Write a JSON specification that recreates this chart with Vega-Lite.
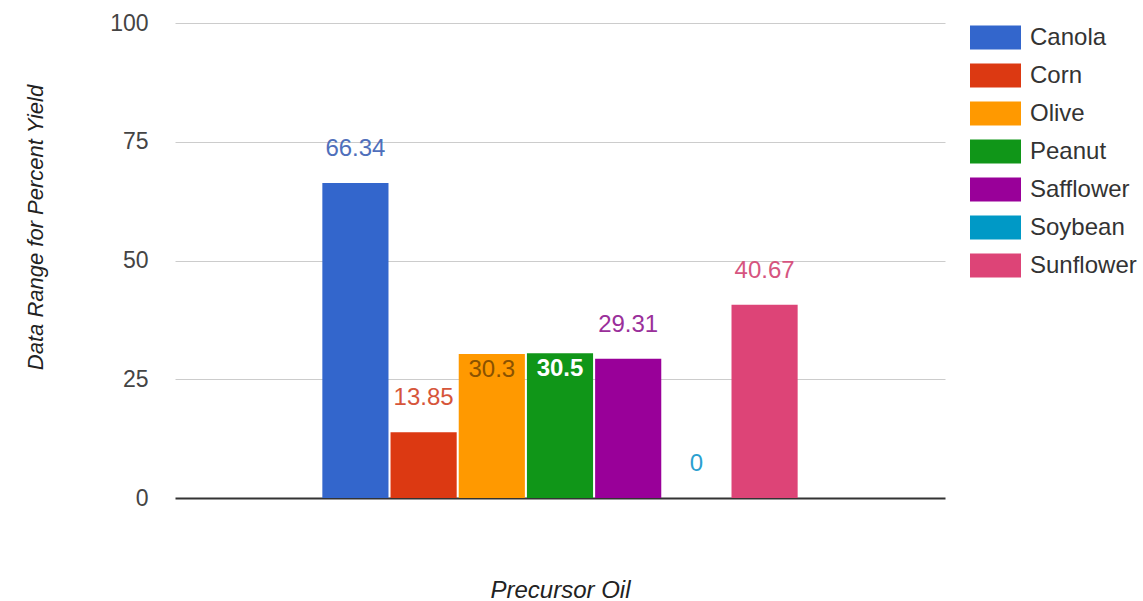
{
  "$schema": "https://vega.github.io/schema/vega-lite/v6.json",
  "width": 770,
  "height": 475,
  "autosize": {"type": "none"},
  "padding": {"left": 175, "top": 23, "right": 198, "bottom": 103},
  "background": "white",
  "config": {
    "view": {"stroke": null},
    "font": "Liberation Sans"
  },
  "data": {
    "values": [
      {"group": "", "oil": "Canola", "yield": 66.34},
      {"group": "", "oil": "Corn", "yield": 13.85},
      {"group": "", "oil": "Olive", "yield": 30.3},
      {"group": "", "oil": "Peanut", "yield": 30.5},
      {"group": "", "oil": "Safflower", "yield": 29.31},
      {"group": "", "oil": "Soybean", "yield": 0},
      {"group": "", "oil": "Sunflower", "yield": 40.67}
    ]
  },
  "encoding": {
    "x": {
      "field": "group",
      "type": "nominal",
      "scale": {"paddingInner": 0, "paddingOuter": 0.31},
      "axis": {
        "title": "Precursor Oil",
        "labels": false,
        "ticks": false,
        "domain": false,
        "titleFont": "Liberation Sans",
        "titleFontSize": 24,
        "titleFontStyle": "italic",
        "titleFontWeight": "normal",
        "titleColor": "#222222",
        "titleY": 92,
        "titleBaseline": "middle"
      }
    },
    "xOffset": {
      "field": "oil",
      "type": "nominal",
      "sort": null,
      "scale": {"paddingInner": 0.03, "paddingOuter": 0}
    },
    "y": {
      "field": "yield",
      "type": "quantitative",
      "scale": {"domain": [0, 100], "nice": false},
      "axis": {
        "title": "Data Range for Percent Yield",
        "values": [0, 25, 50, 75, 100],
        "ticks": false,
        "domain": false,
        "labelFont": "Liberation Sans",
        "labelFontSize": 23,
        "labelColor": "#444444",
        "labelPadding": 27,
        "gridColor": {"condition": {"test": "datum.value === 0", "value": "#333333"}, "value": "#cccccc"},
        "gridWidth": {"condition": {"test": "datum.value === 0", "value": 2}, "value": 1},
        "titleFont": "Liberation Sans",
        "titleFontSize": 22,
        "titleFontStyle": "italic",
        "titleFontWeight": "normal",
        "titleColor": "#222222",
        "titleX": -140,
        "titleY": 204,
        "titleAlign": "center",
        "titleBaseline": "middle"
      }
    }
  },
  "layer": [
    {
      "mark": {"type": "bar"},
      "encoding": {
        "color": {
          "field": "oil",
          "type": "nominal",
          "sort": null,
          "scale": {
            "domain": ["Canola", "Corn", "Olive", "Peanut", "Safflower", "Soybean", "Sunflower"],
            "range": ["#3366cc", "#dc3912", "#ff9900", "#109618", "#990099", "#0099c6", "#dd4477"]
          },
          "legend": {
            "title": null,
            "orient": "none",
            "legendX": 795,
            "legendY": -11,
            "padding": 0,
            "symbolType": "M-1,-0.47H1V0.47H-1Z",
            "symbolSize": 2601,
            "symbolStrokeWidth": 0,
            "symbolOpacity": 1,
            "labelFont": "Liberation Sans",
            "labelFontSize": 24,
            "labelColor": "#333333",
            "labelOffset": 9,
            "rowPadding": -9
          }
        }
      }
    },
    {
      "transform": [{"filter": "datum.oil !== 'Olive' && datum.oil !== 'Peanut'"}],
      "mark": {"type": "text", "baseline": "middle", "dy": -34, "fontSize": 24, "font": "Liberation Sans"},
      "encoding": {
        "text": {"field": "yield", "type": "quantitative"},
        "color": {
          "field": "oil",
          "type": "nominal",
          "sort": null,
          "scale": {
            "domain": ["Canola", "Corn", "Safflower", "Soybean", "Sunflower"],
            "range": ["#4f6fbb", "#d6553a", "#9a2f9a", "#2b9fd0", "#d6557f"]
          },
          "legend": null
        }
      }
    },
    {
      "transform": [{"filter": "datum.oil === 'Olive'"}],
      "mark": {"type": "text", "baseline": "middle", "dy": 16, "fontSize": 24, "font": "Liberation Sans", "color": "#8a5200"},
      "encoding": {
        "text": {"field": "yield", "type": "quantitative"}
      }
    },
    {
      "transform": [{"filter": "datum.oil === 'Peanut'"}],
      "mark": {"type": "text", "baseline": "middle", "dy": 16, "fontSize": 24, "font": "Liberation Sans", "fontWeight": "bold", "color": "#ffffff"},
      "encoding": {
        "text": {"field": "yield", "type": "quantitative"}
      }
    }
  ],
  "resolve": {"scale": {"color": "independent"}}
}
